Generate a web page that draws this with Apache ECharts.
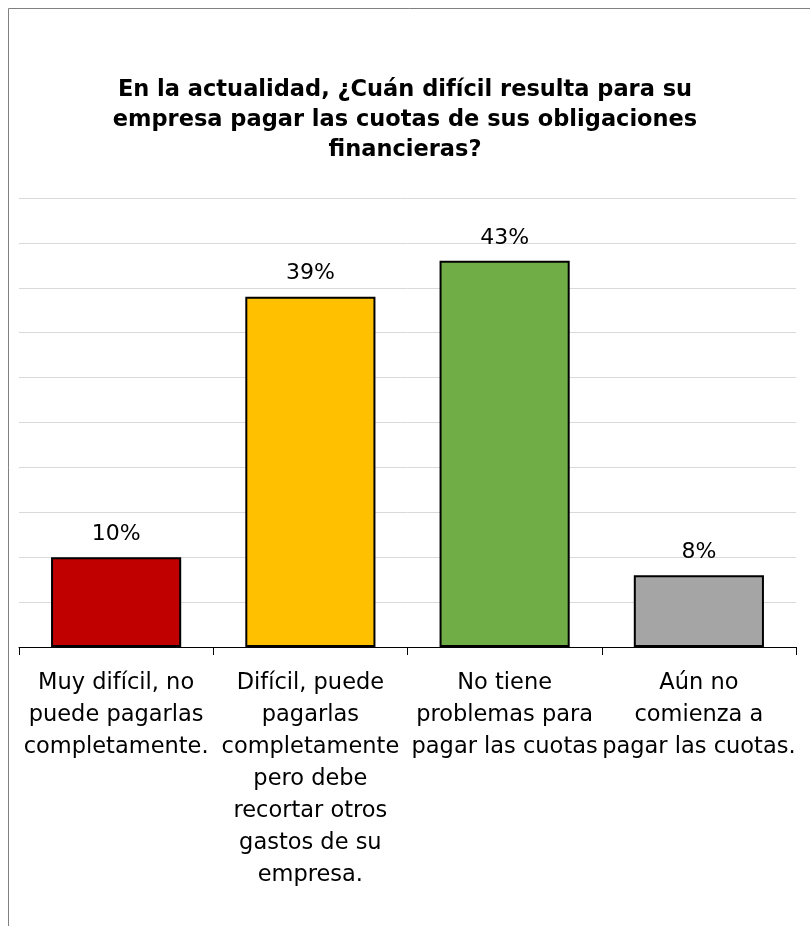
<!DOCTYPE html>
<html><head><meta charset="utf-8">
<script src="https://cdn.jsdelivr.net/npm/echarts@6/dist/echarts.min.js"></script>
<style>html,body{margin:0;padding:0;background:#fff}#c{width:810px;height:926px}</style>
</head><body><div id="c"></div>
<script>
const titleText = "En la actualidad, ¿Cuán difícil resulta para su\nempresa pagar las cuotas de sus obligaciones\nfinancieras?";
const categories = [
  "Muy difícil, no\npuede pagarlas\ncompletamente.",
  "Difícil, puede\npagarlas\ncompletamente\npero debe\nrecortar otros\ngastos de su\nempresa.",
  "No tiene\nproblemas para\npagar las cuotas",
  "Aún no\ncomienza a\npagar las cuotas."
];
const values = [10, 39, 43, 8];
const colors = ["#C00000", "#FFC000", "#70AD47", "#A5A5A5"];
const yTicks = {min: 0, max: 50, interval: 5};

const FONT = "DejaVu Sans";
const chart = echarts.init(document.getElementById('c'), null, {renderer: 'canvas'});
chart.setOption({
  animation: false,
  backgroundColor: '#fff',
  title: {
    text: titleText, left: 'center', top: 70,
    textStyle: {fontFamily: FONT, fontSize: 22.5, fontWeight: 'bold', color: '#000', lineHeight: 30}
  },
  graphic: [
    {type: 'line', shape: {x1: 8.5, y1: 8.5, x2: 810, y2: 8.5}, style: {stroke: '#808080', lineWidth: 1}},
    {type: 'line', shape: {x1: 8.5, y1: 8.5, x2: 8.5, y2: 926}, style: {stroke: '#808080', lineWidth: 1}}
  ],
  grid: {left: 19, right: 14, top: 198, bottom: 279, containLabel: false},
  xAxis: {
    type: 'category', data: categories,
    axisLine: {lineStyle: {color: '#000', width: 1}},
    axisTick: {show: true, length: 8, interval: 0, lineStyle: {color: '#000'}},
    axisLabel: {interval: 0, margin: 20, fontFamily: FONT, fontSize: 22.5, lineHeight: 32, color: '#000'}
  },
  yAxis: {
    type: 'value', min: yTicks.min, max: yTicks.max, interval: yTicks.interval,
    axisLabel: {show: false}, axisLine: {show: false}, axisTick: {show: false},
    splitLine: {lineStyle: {color: '#D9D9D9', width: 1}}
  },
  series: [{
    type: 'bar', barWidth: '67%',
    data: values.map((v, i) => ({value: v, itemStyle: {color: colors[i]}})),
    itemStyle: {borderColor: '#000', borderWidth: 2},
    label: {show: true, position: 'top', distance: 12, formatter: '{c}%', fontFamily: FONT, fontSize: 22, color: '#000'}
  }]
});
</script></body></html>
